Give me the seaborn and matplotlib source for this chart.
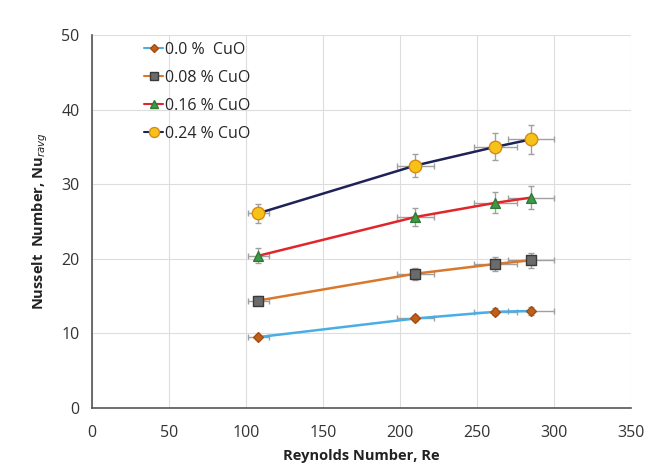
import matplotlib
matplotlib.use('Agg')
import matplotlib.pyplot as plt
from matplotlib.lines import Line2D
import numpy as np
import pandas as pd
import seaborn as sns

re_vals = [108, 210, 262, 285]
nu_00 = [9.5, 12.0, 12.9, 13.0]
nu_08 = [14.4, 18.0, 19.3, 19.8]
nu_16 = [20.4, 25.6, 27.5, 28.2]
nu_24 = [26.1, 32.5, 35.0, 36.0]
err_00 = [0.3, 0.4, 0.5, 0.5]
err_08 = [0.6, 0.8, 1.0, 1.0]
err_16 = [1.0, 1.2, 1.4, 1.5]
err_24 = [1.3, 1.6, 1.8, 1.9]
re_err = [7, 12, 14, 15]
labels = ['0.0 %  CuO', '0.08 % CuO', '0.16 % CuO', '0.24 % CuO']

line_colors = ['#4aaee6', '#d9782d', '#e0262b', '#1f2257']
marker_face = ['#c0601a', '#6b6b6b', '#3f9a45', '#f6c21a']
marker_edge = ['#a04e12', '#3a3a3a', '#2c7a33', '#d98a10']
markers = ['D', 's', '^', 'o']
msizes = [5, 7, 7, 9]

series = [nu_00, nu_08, nu_16, nu_24]
errs = [err_00, err_08, err_16, err_24]

df = pd.concat([pd.DataFrame({'Re': re_vals, 'Nu': s, 'case': lab})
                for s, lab in zip(series, labels)])

sns.set_style('white')
plt.rcParams['font.family'] = ['Open Sans', 'DejaVu Sans']

fig = plt.figure(figsize=(6.64, 4.63), dpi=100)
ax = fig.add_axes([0.1386, 0.1188, 0.8114, 0.8056])

sns.lineplot(data=df, x='Re', y='Nu', hue='case', palette=line_colors,
             linewidth=1.8, legend=False, ax=ax, zorder=3)

for i in range(4):
    ax.errorbar(re_vals, series[i], yerr=errs[i], xerr=re_err, fmt='none',
                ecolor='#a0a0a0', elinewidth=1, capsize=2.5, zorder=2)
    ax.scatter(re_vals, series[i], marker=markers[i], s=msizes[i] ** 2,
               c=marker_face[i], edgecolors=marker_edge[i], linewidths=1, zorder=4)

ax.set_xlim(0, 350)
ax.set_ylim(0, 50)
ax.set_xticks(range(0, 351, 50))
ax.set_yticks(range(0, 51, 10))
ax.grid(True, color='#dddddd', linewidth=0.8)
ax.set_axisbelow(True)
for sp in ['top', 'right']:
    ax.spines[sp].set_visible(False)
for sp in ['left', 'bottom']:
    ax.spines[sp].set_color('#555555')
    ax.spines[sp].set_linewidth(1.2)
ax.tick_params(labelsize=11.5, length=0, colors='#333333')
ax.tick_params(axis='x', pad=12)
ax.tick_params(axis='y', pad=9)

ax.set_xlabel('Reynolds Number, Re', fontsize=10.5, fontweight='bold', color='#222222', labelpad=6)
ax.set_ylabel(r'Nusselt  Number, Nu$_{ravg}$', fontsize=10.5, fontweight='bold', color='#222222', labelpad=8)

handles = [Line2D([0], [0], color=line_colors[i], marker=markers[i],
                  markerfacecolor=marker_face[i], markeredgecolor=marker_edge[i],
                  markersize=msizes[i] * 0.8, linewidth=1.5) for i in range(4)]
ax.legend(handles, labels, loc='upper left', bbox_to_anchor=(0.07, 1.02), frameon=False,
          fontsize=11.5, handlelength=1.2, handletextpad=0.1, labelspacing=0.75)

fig.savefig('out.png', dpi=100)
